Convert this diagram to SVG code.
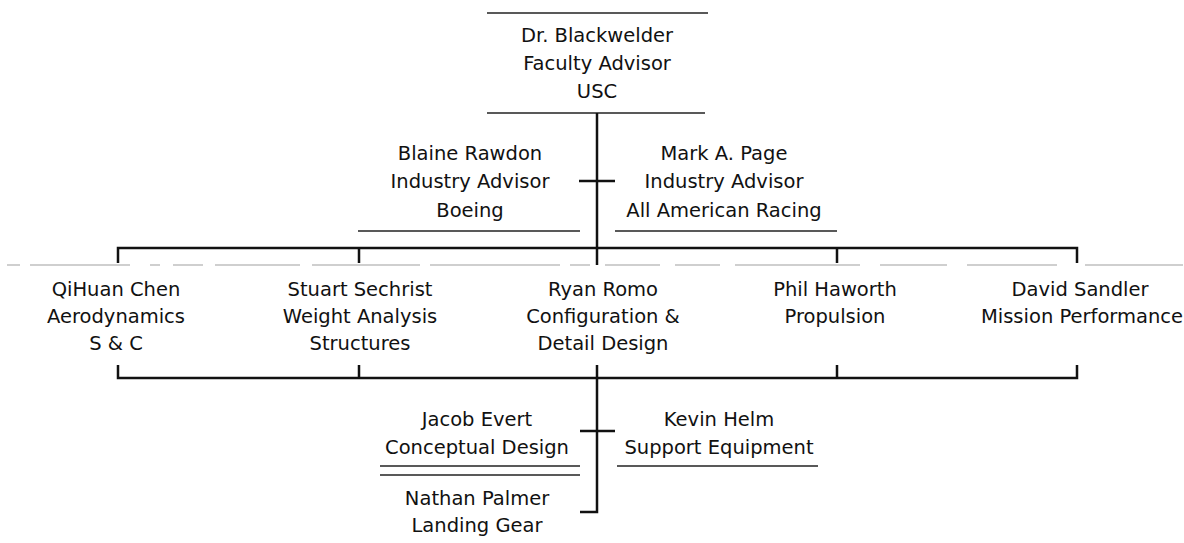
<svg xmlns="http://www.w3.org/2000/svg" width="1184" height="543" viewBox="0 0 1184 543">
<style>
text{font-family:"DejaVu Sans","Liberation Sans",sans-serif;font-size:19.5px;fill:#111;text-anchor:middle}
.main{stroke:#111;stroke-width:2.5;fill:none}
.rule{stroke:#222;stroke-width:1.6;fill:none}
.faint{stroke:#a0a0a0;stroke-width:1.2;fill:none}
</style>
<rect width="1184" height="543" fill="#ffffff"/>
<g id="connectors">
<line class="rule" x1="487" y1="13" x2="708" y2="13"/>
<line class="rule" x1="487" y1="113" x2="705" y2="113"/>
<line class="rule" x1="358" y1="231" x2="580" y2="231"/>
<line class="rule" x1="615" y1="231" x2="837" y2="231"/>
<line class="rule" x1="380" y1="466" x2="580" y2="466"/>
<line class="rule" x1="380" y1="475" x2="580" y2="475"/>
<line class="rule" x1="617" y1="466" x2="818" y2="466"/>
<path class="faint" d="M7 265H20M30 265H130M150 265H160M173 265H203M215 265H300M312 265H420M430 265H560M570 265H590M605 265H660M675 265H720M735 265H860M880 265H947M967 265H1057M1085 265H1183"/>
<line class="main" x1="597" y1="113" x2="597" y2="265"/>
<line class="main" x1="579" y1="181" x2="615" y2="181"/>
<path class="main" d="M118 263V248H1077V263M359 248V263M837 248V263"/>
<path class="main" d="M118 365V378H1077V365M359 378V365M837 378V365"/>
<path class="main" d="M597 365V512H580"/>
<line class="main" x1="580" y1="431" x2="615" y2="431"/>
</g>
<g id="blackwelder"><text x="597" y="42">Dr. Blackwelder</text><text x="597" y="70">Faculty Advisor</text><text x="597" y="98">USC</text></g>
<g id="rawdon"><text x="470" y="160">Blaine Rawdon</text><text x="470" y="188">Industry Advisor</text><text x="470" y="217">Boeing</text></g>
<g id="page"><text x="724" y="160">Mark A. Page</text><text x="724" y="188">Industry Advisor</text><text x="724" y="217">All American Racing</text></g>
<g id="chen"><text x="116" y="296">QiHuan Chen</text><text x="116" y="323">Aerodynamics</text><text x="116" y="350">S &amp; C</text></g>
<g id="sechrist"><text x="360" y="296">Stuart Sechrist</text><text x="360" y="323">Weight Analysis</text><text x="360" y="350">Structures</text></g>
<g id="romo"><text x="603" y="296">Ryan Romo</text><text x="603" y="323">Configuration &amp;</text><text x="603" y="350">Detail Design</text></g>
<g id="haworth"><text x="835" y="296">Phil Haworth</text><text x="835" y="323">Propulsion</text></g>
<g id="sandler"><text x="1080" y="296">David Sandler</text><text x="1082" y="323">Mission Performance</text></g>
<g id="evert"><text x="477" y="426">Jacob Evert</text><text x="477" y="454">Conceptual Design</text></g>
<g id="helm"><text x="719" y="426">Kevin Helm</text><text x="719" y="454">Support Equipment</text></g>
<g id="palmer"><text x="477" y="505">Nathan Palmer</text><text x="477" y="532">Landing Gear</text></g>
</svg>
